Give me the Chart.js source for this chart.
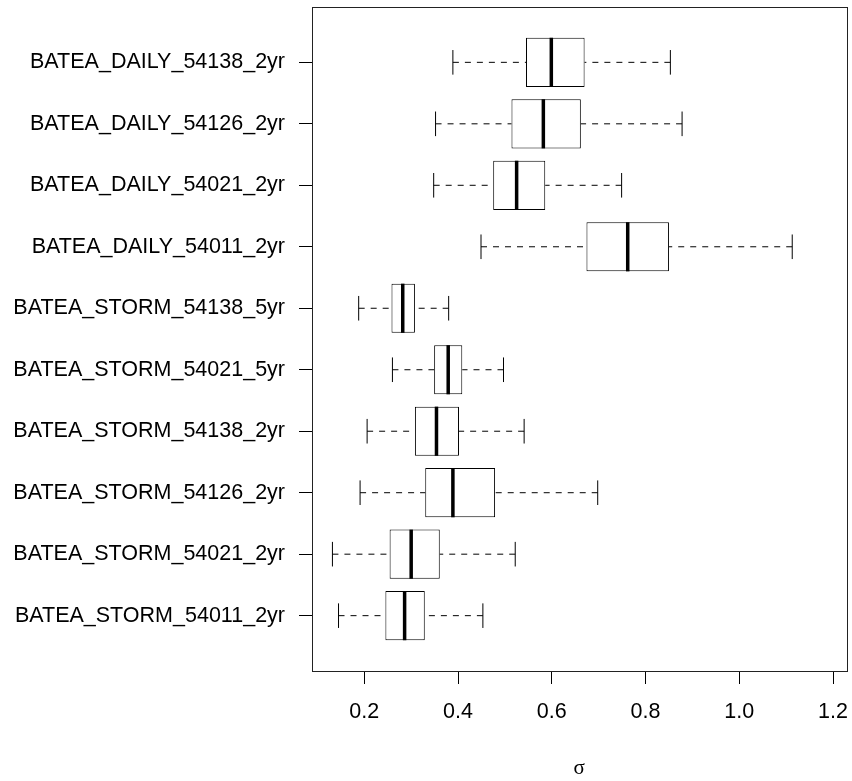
<!DOCTYPE html>
<html>
<head>
<meta charset="utf-8">
<script src="https://cdn.jsdelivr.net/npm/chart.js@4.4.0/dist/chart.umd.min.js"></script>
<style>
  html, body { margin: 0; padding: 0; background: #fff; }
  canvas { display: block; }
</style>
</head>
<body>
<canvas id="boxChart" width="852" height="781"></canvas>
<script>
// runs, top to bottom
const labels = [
  'BATEA_DAILY_54138_2yr', 'BATEA_DAILY_54126_2yr', 'BATEA_DAILY_54021_2yr', 'BATEA_DAILY_54011_2yr',
  'BATEA_STORM_54138_5yr', 'BATEA_STORM_54021_5yr', 'BATEA_STORM_54138_2yr', 'BATEA_STORM_54126_2yr',
  'BATEA_STORM_54021_2yr', 'BATEA_STORM_54011_2yr'
];
const whiskerLow  = [0.389, 0.352, 0.348, 0.449, 0.188, 0.260, 0.206, 0.191, 0.132, 0.145];
const q1          = [0.545, 0.514, 0.475, 0.674, 0.258, 0.349, 0.308, 0.330, 0.254, 0.245];
const median      = [0.599, 0.582, 0.525, 0.762, 0.282, 0.379, 0.354, 0.389, 0.300, 0.286];
const q3          = [0.670, 0.662, 0.586, 0.850, 0.308, 0.409, 0.402, 0.479, 0.361, 0.329];
const whiskerHigh = [0.853, 0.878, 0.749, 1.113, 0.380, 0.497, 0.541, 0.698, 0.522, 0.453];
const xTicks = [0.2, 0.4, 0.6, 0.8, 1.0, 1.2];

const rowPos = labels.map((l, i) => i + 1);

Chart.defaults.font.family = "'Liberation Sans', Arial, sans-serif";
Chart.defaults.font.size = 21.5;
Chart.defaults.color = '#000';

// whiskers, staples, medians and the outer frame
const boxExtras = {
  id: 'boxExtras',
  afterDatasetsDraw(chart) {
    const ctx = chart.ctx;
    const xs = chart.scales.x;
    const bars = chart.getDatasetMeta(0).data;
    ctx.save();
    ctx.strokeStyle = '#000';
    bars.forEach((bar, i) => {
      const y = bar.y;
      const half = bar.height / 2;
      const staple = bar.height / 4;
      const lo = xs.getPixelForValue(whiskerLow[i]);
      const hi = xs.getPixelForValue(whiskerHigh[i]);
      const b1 = xs.getPixelForValue(q1[i]);
      const b3 = xs.getPixelForValue(q3[i]);
      const m = xs.getPixelForValue(median[i]);

      ctx.lineWidth = 1;
      ctx.setLineDash([6, 6]);
      ctx.beginPath();
      ctx.moveTo(lo, y); ctx.lineTo(b1, y);
      ctx.moveTo(hi, y); ctx.lineTo(b3, y);
      ctx.stroke();

      ctx.setLineDash([]);
      ctx.beginPath();
      ctx.moveTo(lo, y - staple); ctx.lineTo(lo, y + staple);
      ctx.moveTo(hi, y - staple); ctx.lineTo(hi, y + staple);
      ctx.stroke();

      ctx.lineWidth = 3.5;
      ctx.beginPath();
      ctx.moveTo(m, y - half); ctx.lineTo(m, y + half);
      ctx.stroke();
    });

    const a = chart.chartArea;
    ctx.lineWidth = 1;
    ctx.strokeStyle = '#222';
    ctx.strokeRect(Math.round(a.left) + 0.5, Math.round(a.top) + 0.5,
      Math.round(a.right - a.left), Math.round(a.bottom - a.top));
    ctx.restore();
  }
};

new Chart(document.getElementById('boxChart'), {
  type: 'bar',
  data: {
    datasets: [{
      data: rowPos.map((p, i) => ({ x: [q1[i], q3[i]], y: p })),
      backgroundColor: '#fff',
      borderColor: '#000',
      borderWidth: 1,
      borderSkipped: false,
      barPercentage: 1,
      categoryPercentage: 0.8
    }]
  },
  options: {
    indexAxis: 'y',
    responsive: false,
    animation: false,
    devicePixelRatio: 1,
    layout: { padding: { top: 7, right: 5.5, left: 0, bottom: 0 } },
    plugins: { legend: { display: false }, tooltip: { enabled: false } },
    scales: {
      x: {
        type: 'linear',
        min: 0.0884,
        max: 1.2288,
        afterBuildTicks: s => { s.ticks = xTicks.map(v => ({ value: v })); },
        afterFit: s => { s.height = 110; s.paddingLeft = 0; s.paddingRight = 0; },
        ticks: { padding: 15, callback: v => v.toFixed(1) },
        grid: { drawOnChartArea: false, drawTicks: true, tickLength: 13, color: '#000' },
        border: { display: false },
        title: {
          display: true,
          text: 'σ',
          font: { family: "'Liberation Serif', 'DejaVu Serif', serif", size: 21 },
          padding: { top: 0, bottom: 0 }
        }
      },
      y: {
        type: 'linear',
        reverse: true,
        offset: false,
        min: 0.1,
        max: 10.9,
        afterBuildTicks: s => { s.ticks = rowPos.map(v => ({ value: v })); },
        afterFit: s => { s.width = 312; s.paddingTop = 0; s.paddingBottom = 0; },
        ticks: { padding: 14, callback: v => labels[v - 1] },
        grid: { offset: false, drawOnChartArea: false, drawTicks: true, tickLength: 13, color: '#000' },
        border: { display: false }
      }
    }
  },
  plugins: [boxExtras]
});
</script>
</body>
</html>
